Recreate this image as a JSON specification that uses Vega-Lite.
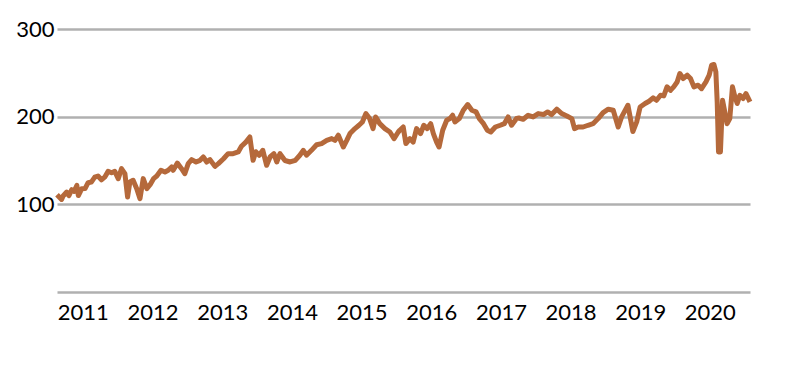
{
  "$schema": "https://vega.github.io/schema/vega-lite/v6.json",
  "width": 693,
  "height": 263,
  "autosize": "none",
  "padding": {"left": 57, "top": 29, "right": 38, "bottom": 74},
  "background": "white",
  "config": {"view": {"stroke": null}},
  "data": {"values": [
    {"date": "2010-09-19", "v": 111},
    {"date": "2010-10-13", "v": 105.6},
    {"date": "2010-10-21", "v": 109.5},
    {"date": "2010-11-09", "v": 114},
    {"date": "2010-11-21", "v": 110},
    {"date": "2010-12-05", "v": 116.7},
    {"date": "2010-12-18", "v": 114.8},
    {"date": "2011-01-01", "v": 121.6},
    {"date": "2011-01-09", "v": 110},
    {"date": "2011-01-27", "v": 117.9},
    {"date": "2011-02-13", "v": 118},
    {"date": "2011-03-01", "v": 124.7},
    {"date": "2011-03-18", "v": 125.4},
    {"date": "2011-04-05", "v": 131},
    {"date": "2011-04-22", "v": 132.3},
    {"date": "2011-05-10", "v": 128},
    {"date": "2011-05-27", "v": 131},
    {"date": "2011-06-14", "v": 137.6},
    {"date": "2011-07-02", "v": 136},
    {"date": "2011-07-19", "v": 137.6},
    {"date": "2011-08-06", "v": 129.3},
    {"date": "2011-08-23", "v": 140.7},
    {"date": "2011-09-10", "v": 135},
    {"date": "2011-09-24", "v": 108.3},
    {"date": "2011-10-06", "v": 125.4},
    {"date": "2011-10-23", "v": 127.4},
    {"date": "2011-11-11", "v": 117.9},
    {"date": "2011-11-28", "v": 106.5},
    {"date": "2011-12-15", "v": 129.3},
    {"date": "2012-01-03", "v": 118},
    {"date": "2012-01-20", "v": 122.4},
    {"date": "2012-02-07", "v": 129.3},
    {"date": "2012-02-24", "v": 132.3},
    {"date": "2012-03-17", "v": 138.8},
    {"date": "2012-04-07", "v": 136.8},
    {"date": "2012-04-24", "v": 138.8},
    {"date": "2012-05-12", "v": 142.6},
    {"date": "2012-05-20", "v": 138.8},
    {"date": "2012-06-11", "v": 147},
    {"date": "2012-07-03", "v": 140.7},
    {"date": "2012-07-20", "v": 135},
    {"date": "2012-08-07", "v": 146.4},
    {"date": "2012-08-25", "v": 151},
    {"date": "2012-09-17", "v": 148.3},
    {"date": "2012-10-08", "v": 150.2},
    {"date": "2012-10-25", "v": 154},
    {"date": "2012-11-12", "v": 148.3},
    {"date": "2012-11-29", "v": 151},
    {"date": "2012-12-25", "v": 143.3},
    {"date": "2013-01-12", "v": 146.4},
    {"date": "2013-02-08", "v": 152},
    {"date": "2013-03-04", "v": 157.8},
    {"date": "2013-03-30", "v": 157.8},
    {"date": "2013-04-26", "v": 159.7},
    {"date": "2013-05-13", "v": 166.2},
    {"date": "2013-06-05", "v": 171},
    {"date": "2013-06-26", "v": 176.8},
    {"date": "2013-07-13", "v": 150.2},
    {"date": "2013-07-27", "v": 160},
    {"date": "2013-08-14", "v": 156},
    {"date": "2013-09-02", "v": 161.6},
    {"date": "2013-09-22", "v": 144.5},
    {"date": "2013-10-10", "v": 154},
    {"date": "2013-10-30", "v": 157.8},
    {"date": "2013-11-14", "v": 148.3},
    {"date": "2013-12-01", "v": 157.8},
    {"date": "2013-12-27", "v": 150},
    {"date": "2014-01-23", "v": 148.3},
    {"date": "2014-02-19", "v": 150.2},
    {"date": "2014-03-15", "v": 156},
    {"date": "2014-04-02", "v": 161.6},
    {"date": "2014-04-19", "v": 156},
    {"date": "2014-05-15", "v": 161.6},
    {"date": "2014-06-11", "v": 168},
    {"date": "2014-07-07", "v": 169.3},
    {"date": "2014-08-03", "v": 173},
    {"date": "2014-08-29", "v": 175},
    {"date": "2014-09-15", "v": 173},
    {"date": "2014-10-03", "v": 178.8},
    {"date": "2014-10-29", "v": 165.4},
    {"date": "2014-11-16", "v": 173},
    {"date": "2014-12-03", "v": 180.7},
    {"date": "2014-12-29", "v": 186.4},
    {"date": "2015-01-19", "v": 190.2},
    {"date": "2015-02-06", "v": 194},
    {"date": "2015-02-24", "v": 203.5},
    {"date": "2015-03-16", "v": 197.8},
    {"date": "2015-04-03", "v": 186.4},
    {"date": "2015-04-16", "v": 199.7},
    {"date": "2015-05-08", "v": 192},
    {"date": "2015-06-04", "v": 186.4},
    {"date": "2015-06-30", "v": 182.5},
    {"date": "2015-07-22", "v": 175},
    {"date": "2015-08-13", "v": 182.5},
    {"date": "2015-08-21", "v": 184.5},
    {"date": "2015-09-08", "v": 188.2},
    {"date": "2015-09-22", "v": 169.3},
    {"date": "2015-10-13", "v": 175},
    {"date": "2015-10-30", "v": 171},
    {"date": "2015-11-17", "v": 186.4},
    {"date": "2015-12-08", "v": 180.7},
    {"date": "2015-12-25", "v": 190.2},
    {"date": "2016-01-12", "v": 186.4},
    {"date": "2016-01-30", "v": 192},
    {"date": "2016-02-13", "v": 180.7},
    {"date": "2016-03-01", "v": 171},
    {"date": "2016-03-14", "v": 165.4},
    {"date": "2016-04-02", "v": 184.5},
    {"date": "2016-04-23", "v": 195.9},
    {"date": "2016-05-10", "v": 197.8},
    {"date": "2016-05-24", "v": 201.6},
    {"date": "2016-06-05", "v": 194},
    {"date": "2016-06-28", "v": 197.8},
    {"date": "2016-07-19", "v": 207.3},
    {"date": "2016-08-11", "v": 213.8},
    {"date": "2016-09-02", "v": 207.3},
    {"date": "2016-09-24", "v": 205.4},
    {"date": "2016-10-11", "v": 197.8},
    {"date": "2016-11-02", "v": 192},
    {"date": "2016-11-22", "v": 184.5},
    {"date": "2016-12-10", "v": 182.5},
    {"date": "2017-01-03", "v": 188.2},
    {"date": "2017-01-29", "v": 190.2},
    {"date": "2017-02-19", "v": 192},
    {"date": "2017-03-11", "v": 199.7},
    {"date": "2017-03-29", "v": 190.2},
    {"date": "2017-04-24", "v": 198},
    {"date": "2017-05-06", "v": 198.5},
    {"date": "2017-05-29", "v": 197},
    {"date": "2017-06-24", "v": 201.6},
    {"date": "2017-07-20", "v": 199.7},
    {"date": "2017-08-16", "v": 203.5},
    {"date": "2017-09-12", "v": 202.4},
    {"date": "2017-10-04", "v": 205.4},
    {"date": "2017-10-25", "v": 202.4},
    {"date": "2017-11-21", "v": 208.5},
    {"date": "2017-12-17", "v": 203.5},
    {"date": "2018-01-13", "v": 200.8},
    {"date": "2018-02-08", "v": 197.8},
    {"date": "2018-02-22", "v": 186.4},
    {"date": "2018-03-13", "v": 188.2},
    {"date": "2018-04-08", "v": 188.2},
    {"date": "2018-05-04", "v": 190.2},
    {"date": "2018-05-30", "v": 192},
    {"date": "2018-06-26", "v": 197.8},
    {"date": "2018-07-22", "v": 204.7},
    {"date": "2018-08-18", "v": 208.5},
    {"date": "2018-09-13", "v": 207.3},
    {"date": "2018-10-09", "v": 188.2},
    {"date": "2018-10-27", "v": 199.7},
    {"date": "2018-11-29", "v": 213},
    {"date": "2018-12-25", "v": 183},
    {"date": "2019-01-14", "v": 194},
    {"date": "2019-02-01", "v": 211},
    {"date": "2019-02-27", "v": 215},
    {"date": "2019-03-20", "v": 217.6},
    {"date": "2019-04-10", "v": 221.4},
    {"date": "2019-04-28", "v": 218.7},
    {"date": "2019-05-19", "v": 224.4},
    {"date": "2019-06-05", "v": 223.7},
    {"date": "2019-06-22", "v": 234},
    {"date": "2019-07-10", "v": 230},
    {"date": "2019-07-27", "v": 234},
    {"date": "2019-08-14", "v": 239.6},
    {"date": "2019-08-28", "v": 249.2},
    {"date": "2019-09-15", "v": 243.5},
    {"date": "2019-10-06", "v": 247.3},
    {"date": "2019-10-23", "v": 243.5},
    {"date": "2019-11-10", "v": 234},
    {"date": "2019-12-02", "v": 235.9},
    {"date": "2019-12-20", "v": 232},
    {"date": "2020-01-12", "v": 239.6},
    {"date": "2020-01-29", "v": 247.3},
    {"date": "2020-02-11", "v": 258.7},
    {"date": "2020-02-23", "v": 259.5},
    {"date": "2020-03-04", "v": 251},
    {"date": "2020-03-11", "v": 216.8},
    {"date": "2020-03-18", "v": 159.7},
    {"date": "2020-03-28", "v": 159.7},
    {"date": "2020-04-08", "v": 218.7},
    {"date": "2020-04-20", "v": 205.4},
    {"date": "2020-05-02", "v": 192},
    {"date": "2020-05-16", "v": 197.8},
    {"date": "2020-05-30", "v": 234},
    {"date": "2020-06-12", "v": 222.5},
    {"date": "2020-06-24", "v": 215},
    {"date": "2020-07-08", "v": 224.4},
    {"date": "2020-07-25", "v": 220.7},
    {"date": "2020-08-09", "v": 226.3},
    {"date": "2020-08-30", "v": 216.8}
  ]},
  "mark": {"type": "line", "color": "#b5693b", "strokeWidth": 5, "strokeJoin": "round"},
  "encoding": {
    "x": {
      "field": "date", "type": "temporal",
      "scale": {"domain": ["2010-09-19", "2020-08-30"]},
      "axis": {
        "title": null, "format": "%Y", "tickCount": {"interval": "year", "step": 1},
        "grid": false, "ticks": false, "domain": false,
        "labelFont": "Lato", "labelFontSize": 22, "labelColor": "#000000",
        "labelPadding": 10, "labelOffset": 6, "labelFlush": false, "labelOverlap": false
      }
    },
    "y": {
      "field": "v", "type": "quantitative",
      "scale": {"domain": [0, 300], "nice": false},
      "axis": {
        "title": null, "values": [0, 100, 200, 300],
        "labelExpr": "datum.value == 0 ? '' : datum.label",
        "grid": true, "gridColor": "#b0b0b0", "gridWidth": 2.5,
        "ticks": false, "domain": false,
        "labelFont": "Lato", "labelFontSize": 22, "labelColor": "#000000",
        "labelPadding": 3
      }
    }
  }
}
